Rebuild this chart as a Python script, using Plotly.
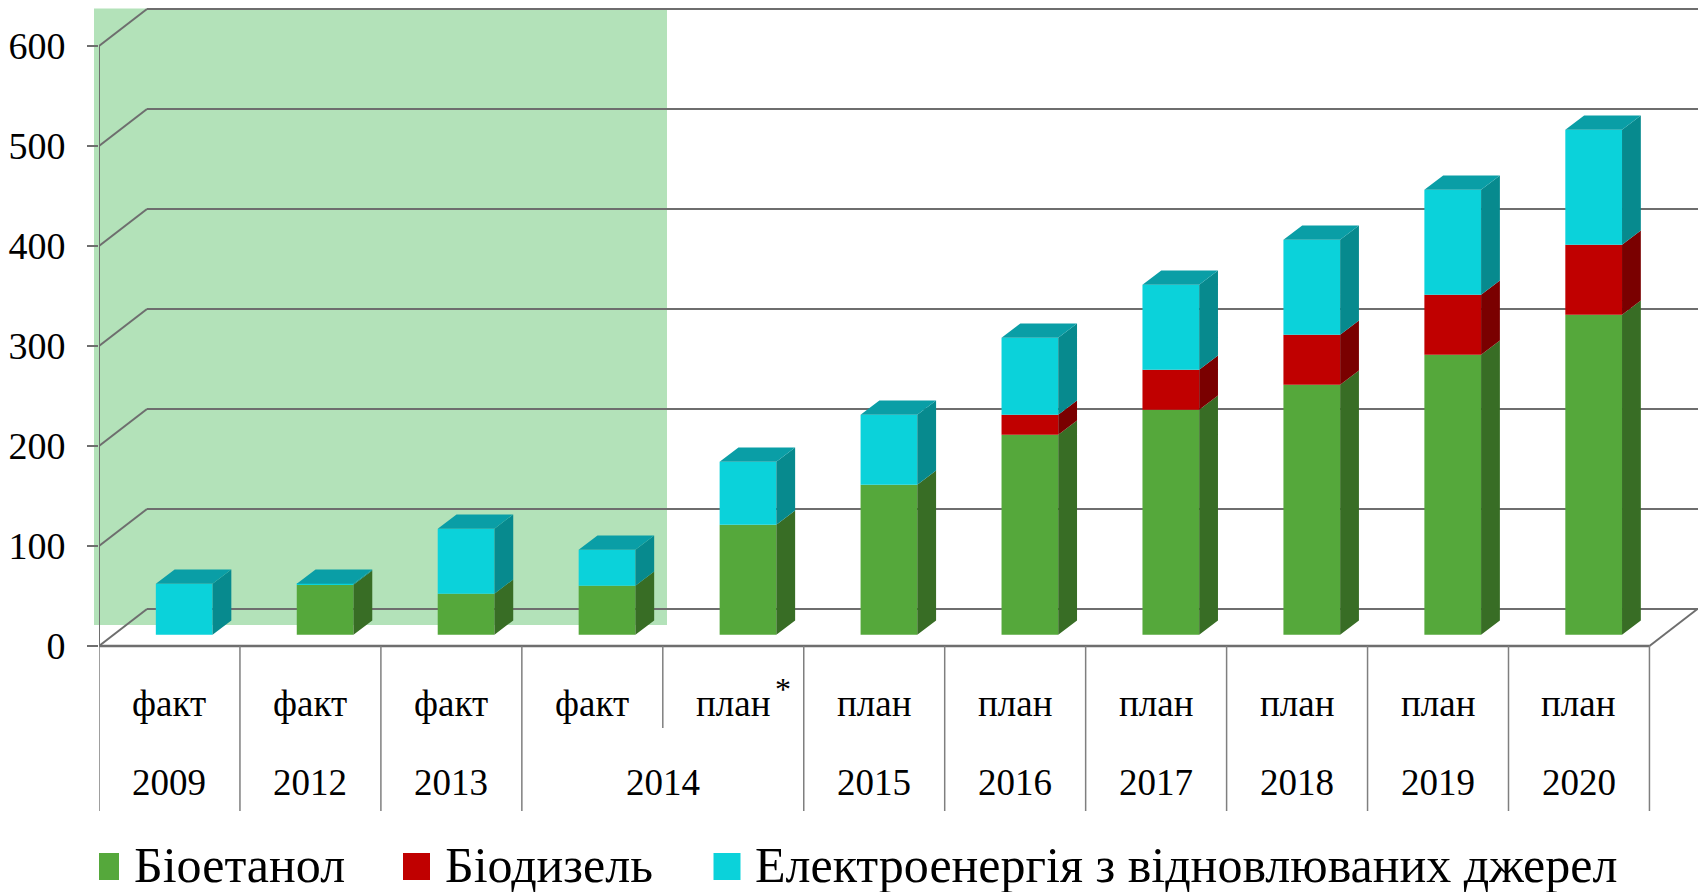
import plotly.graph_objects as go

# ---------------- data ----------------
status_labels = ["факт", "факт", "факт", "факт", "план", "план", "план", "план", "план", "план", "план"]
year_labels = ["2009", "2012", "2013", "2014", "2015", "2016", "2017", "2018", "2019", "2020"]
year_spans = [1, 1, 1, 2, 1, 1, 1, 1, 1, 1]
bioethanol = [0, 50, 41, 49, 110, 150, 200, 225, 250, 280, 320]
biodiesel = [0, 0, 0, 0, 0, 0, 20, 40, 50, 60, 70]
electricity = [51, 1, 65, 36, 63, 70, 77, 85, 95, 105, 115]
series_names = ["Біоетанол", "Біодизель", "Електроенергія з відновлюваних джерел"]
y_ticks = [0, 100, 200, 300, 400, 500, 600]

# ---------------- geometry / style ----------------
W, H = 1698, 892
L = 99                 # left margin (front axis position)
PX = 140.95            # pixels per category
Y_TOP = 646            # value shown at the top pixel row (1 px per unit)
X_MAX = (W - L) / PX
DEPTH_X, DEPTH_Y = 48 / PX, 37          # back-wall offset
BAR_OFF_X, BAR_OFF_Y = 14.7 / PX, 11.3  # bar front-face offset
BAR_W = 56.7 / PX
SIDE_X, SIDE_Y = 18.8 / PX, 14.3        # bar depth

FONT = "Liberation Serif"
front_cols = ["#55a83b", "#c00000", "#0bd2da"]
side_cols = ["#386d25", "#7a0000", "#078a8e"]
top_cols = ["#3f8b2c", "#9a0000", "#0a9ea6"]
GRID = "#6e6e6e"

n = len(status_labels)
series = [bioethanol, biodiesel, electricity]


def px_x(p):
    return (p - L) / PX


def px_y(p):
    return Y_TOP - p


fig = go.Figure()

# bars: front faces
cum = [BAR_OFF_Y] * n
bases = []
for s, vals in enumerate(series):
    base = list(cum)
    bases.append(base)
    fig.add_trace(go.Bar(
        x=[i + 0.5 + BAR_OFF_X for i in range(n)], y=vals, base=base,
        width=BAR_W, marker=dict(color=front_cols[s], line=dict(width=0)),
        name=series_names[s], showlegend=False, hoverinfo="skip"))
    cum = [c + v for c, v in zip(cum, vals)]

# side faces
for s, vals in enumerate(series):
    xs, ys = [], []
    for i in range(n):
        if vals[i] <= 0:
            continue
        xr = i + 0.5 + BAR_OFF_X + BAR_W / 2
        b = bases[s][i]
        t = b + vals[i]
        xs += [xr, xr + SIDE_X, xr + SIDE_X, xr, xr, None]
        ys += [b, b + SIDE_Y, t + SIDE_Y, t, b, None]
    if xs:
        fig.add_trace(go.Scatter(x=xs, y=ys, mode="lines", fill="toself",
                                 fillcolor=side_cols[s], line=dict(width=0),
                                 showlegend=False, hoverinfo="skip"))

# top faces (colour of the highest non-zero segment)
tops = {0: ([], []), 1: ([], []), 2: ([], [])}
for i in range(n):
    top_s = max(s for s in range(3) if series[s][i] > 0)
    t = cum[i]
    xl = i + 0.5 + BAR_OFF_X - BAR_W / 2
    xr = xl + BAR_W
    xs, ys = tops[top_s]
    xs += [xl, xr, xr + SIDE_X, xl + SIDE_X, xl, None]
    ys += [t, t, t + SIDE_Y, t + SIDE_Y, t, None]
for s, (xs, ys) in tops.items():
    if xs:
        fig.add_trace(go.Scatter(x=xs, y=ys, mode="lines", fill="toself",
                                 fillcolor=top_cols[s], line=dict(width=0),
                                 showlegend=False, hoverinfo="skip"))

shapes = []
# highlighted "fact" area
shapes.append(dict(type="rect", xref="paper", yref="y",
                   x0=(94 - L) / (W - L), x1=(667 - L) / (W - L),
                   y0=px_y(625), y1=px_y(8.4),
                   fillcolor="#b3e2b9", line=dict(width=0), layer="below"))
# back wall grid lines and left-wall diagonals
for v in y_ticks:
    shapes.append(dict(type="line", xref="x", yref="y", x0=DEPTH_X, x1=X_MAX,
                       y0=v + DEPTH_Y, y1=v + DEPTH_Y,
                       line=dict(color=GRID, width=2), layer="below"))
    shapes.append(dict(type="line", xref="x", yref="y", x0=0, x1=DEPTH_X,
                       y0=v, y1=v + DEPTH_Y,
                       line=dict(color=GRID, width=2), layer="below"))
# front vertical axis, floor front edge, floor right edge
shapes.append(dict(type="line", xref="x", yref="y", x0=0, x1=0, y0=0, y1=max(y_ticks),
                   line=dict(color=GRID, width=2), layer="below"))
shapes.append(dict(type="line", xref="x", yref="y", x0=0, x1=n, y0=0, y1=0,
                   line=dict(color=GRID, width=2.5), layer="below"))
shapes.append(dict(type="line", xref="x", yref="y", x0=n, x1=n + DEPTH_X, y0=0, y1=DEPTH_Y,
                   line=dict(color=GRID, width=2), layer="below"))
# category table separators
ROW1_Y = px_y(703)
ROW2_Y = px_y(782)
for i in range(n + 1):
    full = True
    acc = 0
    for sp in year_spans:
        if acc < i < acc + sp:
            full = False
        acc += sp
    shapes.append(dict(type="line", xref="x", yref="y", x0=i, x1=i, y0=0,
                       y1=px_y(811) if full else px_y(728),
                       line=dict(color="#7f7f7f", width=1.5), layer="below"))

annotations = []
for i, lab in enumerate(status_labels):
    annotations.append(dict(x=i + 0.5, y=ROW1_Y, xref="x", yref="y", text=lab,
                            showarrow=False, font=dict(family=FONT, size=37, color="black"),
                            xanchor="center", yanchor="middle"))
annotations.append(dict(x=px_x(783), y=px_y(689), xref="x", yref="y", text="*",
                        showarrow=False, font=dict(family=FONT, size=32, color="black"),
                        xanchor="center", yanchor="middle"))
acc = 0
for lab, sp in zip(year_labels, year_spans):
    annotations.append(dict(x=acc + sp / 2, y=ROW2_Y, xref="x", yref="y", text=lab,
                            showarrow=False, font=dict(family=FONT, size=37, color="black"),
                            xanchor="center", yanchor="middle"))
    acc += sp

# legend (swatches + text)
leg_sw = [92, 403, 713.5]
leg_tx = [132, 443, 753]
for s in range(3):
    shapes.append(dict(type="rect", xref="x", yref="y",
                       x0=px_x(leg_sw[s]), x1=px_x(leg_sw[s] + 27),
                       y0=px_y(880), y1=px_y(853),
                       fillcolor=front_cols[s], line=dict(width=0), layer="above"))
    annotations.append(dict(x=px_x(leg_tx[s]), y=px_y(865), xref="x", yref="y",
                            text=series_names[s], showarrow=False,
                            font=dict(family=FONT, size=50, color="black"),
                            xanchor="left", yanchor="middle"))

fig.update_layout(
    width=W, height=H,
    margin=dict(l=L, r=0, t=0, b=0),
    paper_bgcolor="white", plot_bgcolor="white",
    barmode="overlay",
    showlegend=False,
    shapes=shapes, annotations=annotations,
    font=dict(family=FONT),
    xaxis=dict(range=[0, X_MAX], showgrid=False, zeroline=False, showticklabels=False,
               showline=False, ticks="", fixedrange=True),
    yaxis=dict(range=[Y_TOP - H, Y_TOP], showgrid=False, zeroline=False, showline=False,
               tickvals=y_ticks, ticktext=[str(v) for v in y_ticks],
               ticks="outside", ticklen=11, tickwidth=2, tickcolor=GRID,
               ticklabelstandoff=14,
               tickfont=dict(family=FONT, size=38, color="black"), fixedrange=True),
)

fig.write_html("out.html", config={"displayModeBar": False},
               post_script="document.body.style.margin='0';")
